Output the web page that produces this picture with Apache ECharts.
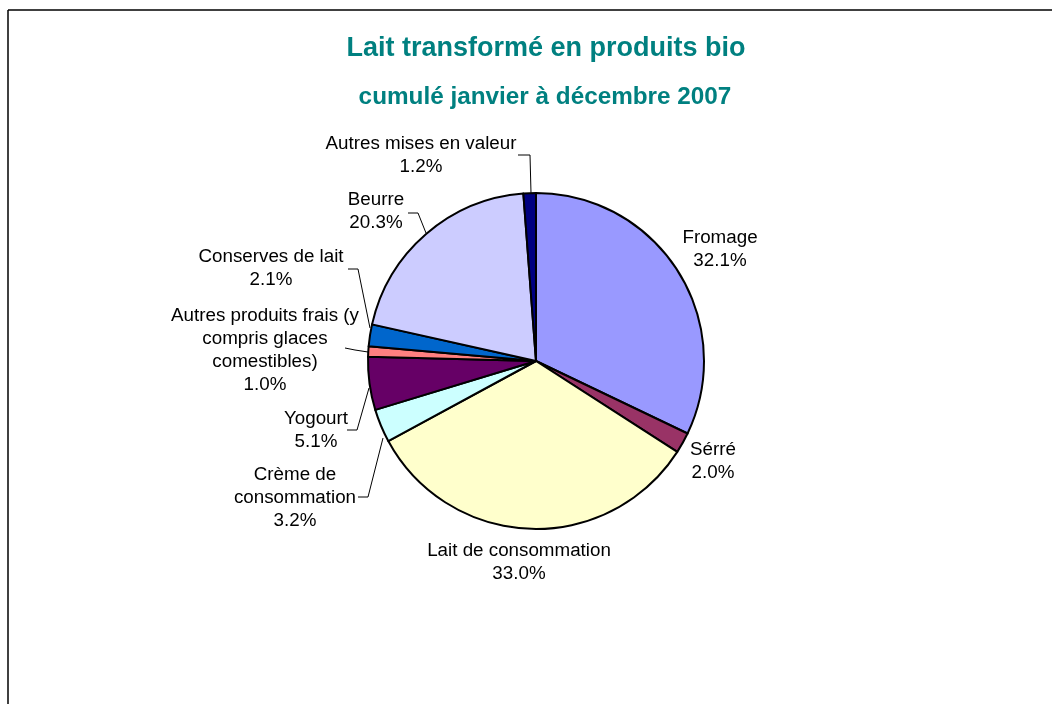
<!DOCTYPE html>
<html><head><meta charset="utf-8">
<script src="https://cdn.jsdelivr.net/npm/echarts@6/dist/echarts.min.js"></script>
<style>html,body{margin:0;padding:0;background:#fff}#c{width:1052px;height:704px}</style>
</head><body><div id="c"></div>
<script>
var categories = ["Fromage","Sérré","Lait de consommation","Crème de consommation","Yogourt","Autres produits frais (y compris glaces comestibles)","Conserves de lait","Beurre","Autres mises en valeur"];
var labelText = ["Fromage","Sérré","Lait de consommation","Crème de\nconsommation","Yogourt","Autres produits frais (y\ncompris glaces\ncomestibles)","Conserves de lait","Beurre","Autres mises en valeur"];
var values = [32.1, 2.0, 33.0, 3.2, 5.1, 1.0, 2.1, 20.3, 1.2];
var colors = ["#9999FF","#993366","#FFFFCC","#CCFFFF","#660066","#FF8080","#0066CC","#CCCCFF","#000080"];
// label placement (style)
var labelPos = [[720,249],[713,461],[519,562],[295,498],[316,430],[265,350],[271,268],[376,211],[421,155]];
var leader = [null,null,null,[[383,438],[368,497],[358,497]],[[369,388],[357,430],[347,430]],[[368,352],[355,350],[345,348]],[[370,328],[358,269],[348,269]],[[426,233],[418,213],[408,213]],[[531,193],[530,155],[518,155]]];

var chart = echarts.init(document.getElementById('c'));
var data = categories.map(function(n,i){
  return {name:n, value:values[i], itemStyle:{color:colors[i]}, labelLine:{show: !!leader[i]}};
});
chart.setOption({
  animation:false,
  title:[
    {text:'Lait transformé en produits bio', left:541, top:30, textAlign:'center',
     textStyle:{fontFamily:'Liberation Sans', fontSize:27, fontWeight:'bold', color:'#008080'}},
    {text:'cumulé janvier à décembre 2007', left:540, top:80, textAlign:'center',
     textStyle:{fontFamily:'Liberation Sans', fontSize:24.3, fontWeight:'bold', color:'#008080'}}
  ],
  graphic:[
    {type:'line', shape:{x1:8,y1:10,x2:1052,y2:10}, style:{stroke:'#000', lineWidth:1.5}},
    {type:'line', shape:{x1:8,y1:10,x2:8,y2:704}, style:{stroke:'#000', lineWidth:1.5}}
  ],
  series:[{
    type:'pie', center:[536,361], radius:168, startAngle:90, clockwise:true,
    data:data,
    itemStyle:{borderColor:'#000', borderWidth:2},
    label:{show:true, fontFamily:'Liberation Sans', fontSize:18.8, color:'#000', lineHeight:23, align:'center',
      formatter:function(p){return labelText[p.dataIndex]+'\n'+p.value.toFixed(1)+'%';}},
    labelLine:{show:true, lineStyle:{color:'#000', width:1}, length:10, length2:10},
    labelLayout:function(p){
      var i = p.dataIndex, lp = labelPos[i];
      var o = {x:lp[0], y:lp[1], align:'center', verticalAlign:'middle'};
      if (leader[i]) o.labelLinePoints = leader[i];
      return o;
    },
    emphasis:{disabled:true}
  }]
});
</script></body></html>
